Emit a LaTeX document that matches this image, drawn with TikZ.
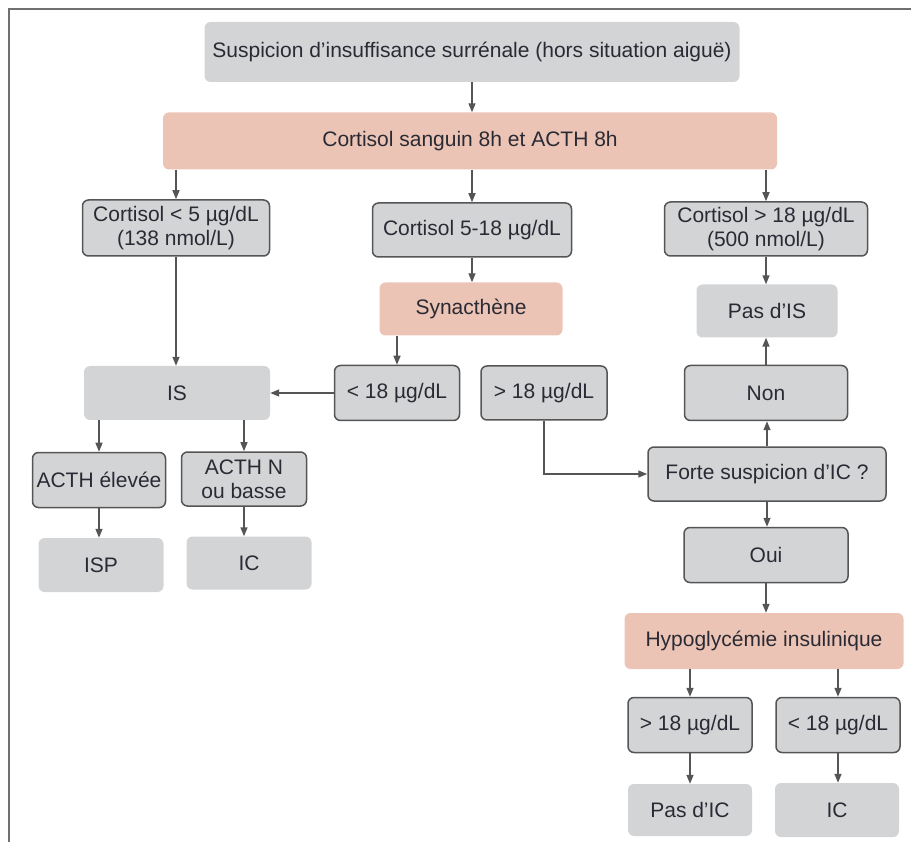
\documentclass[tikz,border=0pt]{standalone}
\usepackage{fontspec}
\setmainfont{Liberation Sans}
\usetikzlibrary{arrows.meta}
\definecolor{boxgray}{HTML}{D3D4D6}
\definecolor{boxpink}{HTML}{ECC4B5}
\definecolor{edgegray}{HTML}{555555}
\definecolor{txt}{HTML}{2A2A35}
\definecolor{framegray}{HTML}{707070}
\tikzset{
  base/.style={rounded corners=6pt, align=center, text=txt, inner sep=1pt,
    font=\fontsize{21}{24}\selectfont},
  graybox/.style={base, fill=boxgray},
  pinkbox/.style={base, fill=boxpink},
  bordbox/.style={base, fill=boxgray, draw=edgegray, line width=1.5pt},
  conn/.style={draw=edgegray, line width=1.4pt, -{Triangle[length=9pt,width=7pt]}},
}
\begin{document}
\begin{tikzpicture}[x=1pt,y=-1pt]
\useasboundingbox (0,0) rectangle (911,842);
\draw[framegray, line width=2pt] (9,842) -- (9,9) -- (911,9);

\node[graybox, minimum width=535pt, minimum height=60pt] (top) at (472,52) {Suspicion d'insuffisance surrénale (hors situation aiguë)};
\node[pinkbox, minimum width=614pt, minimum height=57pt] (cort) at (470,141) {Cortisol sanguin 8h et ACTH 8h};

\node[bordbox, minimum width=187pt, minimum height=56pt] (c5) at (176,228) {Cortisol < 5 µg/dL\\(138 nmol/L)};
\node[bordbox, minimum width=199pt, minimum height=54pt] (c518) at (472,230) {Cortisol 5-18 µg/dL};
\node[bordbox, minimum width=203pt, minimum height=54pt] (c18) at (766,229) {Cortisol > 18 µg/dL\\(500 nmol/L)};

\node[pinkbox, minimum width=183pt, minimum height=53pt] (syn) at (471,309) {Synacthène};
\node[graybox, minimum width=141pt, minimum height=53pt] (pasIS) at (767,311) {Pas d'IS};

\node[graybox, minimum width=186pt, minimum height=54pt] (IS) at (177,393) {IS};
\node[bordbox, minimum width=125pt, minimum height=55pt] (lt18) at (397,393) {< 18 µg/dL};
\node[bordbox, minimum width=126pt, minimum height=54pt] (gt18) at (544,393) {> 18 µg/dL};
\node[bordbox, minimum width=163pt, minimum height=55pt] (non) at (766,393) {Non};

\node[bordbox, minimum width=238pt, minimum height=54pt] (forte) at (767,474) {Forte suspicion d'IC ?};
\node[bordbox, minimum width=164pt, minimum height=55pt] (oui) at (766,555) {Oui};
\node[pinkbox, minimum width=279pt, minimum height=56pt] (hypo) at (764,641) {Hypoglycémie insulinique};

\node[bordbox, minimum width=124pt, minimum height=55pt] (gt18b) at (690,725) {> 18 µg/dL};
\node[bordbox, minimum width=124pt, minimum height=55pt] (lt18b) at (838,725) {< 18 µg/dL};
\node[graybox, minimum width=124pt, minimum height=52pt] (pasIC) at (690,810) {Pas d'IC};
\node[graybox, minimum width=124pt, minimum height=54pt] (ic2) at (837,810) {IC};

\node[bordbox, minimum width=133pt, minimum height=55pt] (acthE) at (99,480) {ACTH élevée};
\node[bordbox, minimum width=125pt, minimum height=54pt] (acthN) at (244,479) {ACTH N\\ou basse};
\node[graybox, minimum width=125pt, minimum height=54pt] (isp) at (101,565) {ISP};
\node[graybox, minimum width=125pt, minimum height=53pt] (ic1) at (249,563) {IC};

\draw[conn] (top.south) -- (top.south |- cort.north);
\draw[conn] (c5.north |- cort.south) -- (c5.north);
\draw[conn] (c518.north |- cort.south) -- (c518.north);
\draw[conn] (c18.north |- cort.south) -- (c18.north);
\draw[conn] (c518.south) -- (c518.south |- syn.north);
\draw[conn] (c18.south) -- (c18.south |- pasIS.north);
\draw[conn] (c5.south) -- (c5.south |- IS.north);
\draw[conn] (lt18.north |- syn.south) -- (lt18.north);
\draw[conn] (lt18.west) -- (IS.east);
\draw[conn] (gt18.south) |- (forte.west);
\draw[conn] (forte.north) -- (forte.north |- non.south);
\draw[conn] (non.north) -- (non.north |- pasIS.south);
\draw[conn] (forte.south) -- (forte.south |- oui.north);
\draw[conn] (oui.south) -- (oui.south |- hypo.north);
\draw[conn] (gt18b.north |- hypo.south) -- (gt18b.north);
\draw[conn] (lt18b.north |- hypo.south) -- (lt18b.north);
\draw[conn] (gt18b.south) -- (gt18b.south |- pasIC.north);
\draw[conn] (lt18b.south) -- (lt18b.south |- ic2.north);
\draw[conn] (acthE.north |- IS.south) -- (acthE.north);
\draw[conn] (acthN.north |- IS.south) -- (acthN.north);
\draw[conn] (acthE.south) -- (acthE.south |- isp.north);
\draw[conn] (acthN.south) -- (acthN.south |- ic1.north);
\end{tikzpicture}
\end{document}
